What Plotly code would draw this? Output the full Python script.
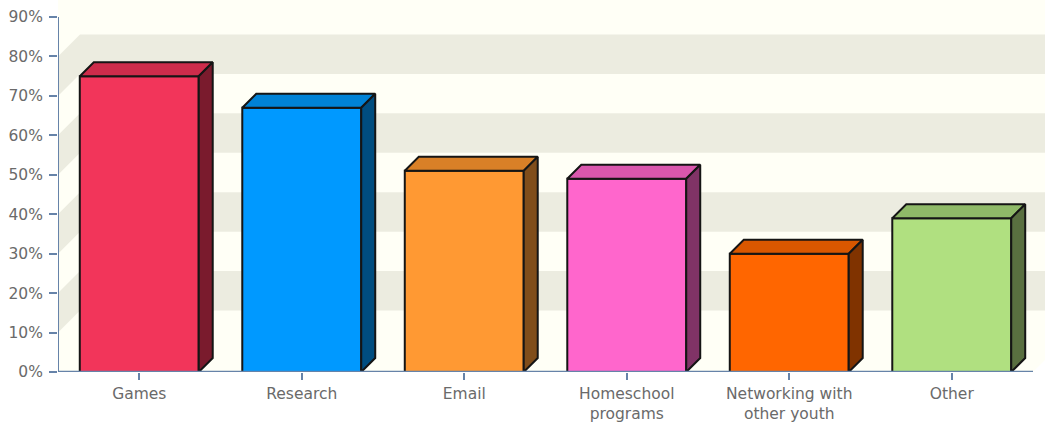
import plotly.graph_objects as go

# Survey data: share of respondents using the computer for each activity
categories = ["Games", "Research", "Email", "Homeschool<br>programs",
              "Networking with<br>other youth", "Other"]
values = [75, 67, 51, 49, 30, 39]

# Face colours per bar: front, top, side
front_colors = ["#F2355A", "#0099FF", "#FF9933", "#FF66CC", "#FF6600", "#B0E080"]
top_colors = ["#CE2C4B", "#0082D6", "#D98027", "#D957AD", "#D95700", "#8FBA68"]
side_colors = ["#7A1B2D", "#004D80", "#804D1A", "#803366", "#803300", "#596F40"]

y_ticks = list(range(0, 100, 10))
y_tick_labels = [f"{t}%" for t in y_ticks]
band_ranges = [(10, 20), (30, 40), (50, 60), (70, 80)]

# Geometry (axis units)
W, H = 1045, 425
ML, MB, MT, MR = 58, 53, 0, 0
px_per_cat = 162.5
px_per_pct = 355 / 90
x0 = -0.5
x_max = x0 + (W - ML - MR) / px_per_cat
y_max = (H - MB - MT) / px_per_pct

bar_w = 0.732
bar_dx = 14 / px_per_cat
bar_dy = 14 / px_per_pct
wall_dx = 22 / px_per_cat
wall_dy = 22 / px_per_pct

axis_col = "#6683A9"
cream = "#FFFFF6"
band = "#ECECE0"
text_col = "#6A6A6A"
edge = "#151515"

xs = list(range(len(categories)))

fig = go.Figure()

# Front faces
fig.add_trace(go.Bar(
    x=xs, y=values, width=bar_w,
    marker=dict(color=front_colors, line=dict(color=edge, width=2)),
    hoverinfo="skip",
))

# Top and side faces for the 3D look
hw = bar_w / 2
for i, v in enumerate(values):
    c = xs[i]
    fig.add_trace(go.Scatter(
        x=[c - hw, c - hw + bar_dx, c + hw + bar_dx, c + hw, c - hw],
        y=[v, v + bar_dy, v + bar_dy, v, v],
        mode="lines", fill="toself", fillcolor=top_colors[i],
        line=dict(color=edge, width=2), hoverinfo="skip",
    ))
    fig.add_trace(go.Scatter(
        x=[c + hw, c + hw + bar_dx, c + hw + bar_dx, c + hw, c + hw],
        y=[0, bar_dy, v + bar_dy, v, 0],
        mode="lines", fill="toself", fillcolor=side_colors[i],
        line=dict(color=edge, width=2), hoverinfo="skip",
    ))

shapes = []
# Back-wall bands
for a, b in band_ranges:
    shapes.append(dict(type="rect", xref="x", yref="y", layer="below",
                       x0=x0 + wall_dx, x1=x_max, y0=a + wall_dy, y1=b + wall_dy,
                       fillcolor=band, line=dict(width=0)))
    # Matching bands on the left side wall
    shapes.append(dict(
        type="path", xref="x", yref="y", layer="below",
        path=(f"M{x0},{a} L{x0 + wall_dx},{a + wall_dy} "
              f"L{x0 + wall_dx},{b + wall_dy} L{x0},{b} Z"),
        fillcolor=band, line=dict(width=0)))
# White corner past the floor's right edge
xe = len(categories) - 0.5
shapes.append(dict(type="path", xref="x", yref="y", layer="below",
                   path=f"M{xe},0 L{xe + wall_dx},{wall_dy} L{x_max + 0.2},{wall_dy} L{x_max + 0.2},0 Z",
                   fillcolor="white", line=dict(width=0)))
# Axis lines
shapes.append(dict(type="line", xref="x", yref="y", layer="above",
                   x0=x0, x1=x0, y0=0, y1=90, line=dict(color=axis_col, width=2)))
shapes.append(dict(type="line", xref="x", yref="y", layer="above",
                   x0=x0, x1=xe, y0=0, y1=0, line=dict(color=axis_col, width=2.5)))

fig.update_layout(
    width=W, height=H,
    margin=dict(l=ML, r=MR, t=MT, b=MB, pad=0),
    paper_bgcolor="white", plot_bgcolor=cream,
    showlegend=False, shapes=shapes,
    font=dict(family="DejaVu Sans", size=15.5, color=text_col),
    xaxis=dict(range=[x0, x_max], tickvals=xs, ticktext=categories,
               ticks="outside", ticklen=7, tickwidth=2, tickcolor=axis_col,
               showgrid=False, zeroline=False, showline=False, fixedrange=True),
    yaxis=dict(range=[0, y_max], tickvals=y_ticks, ticktext=y_tick_labels,
               ticks="outside", ticklen=8, tickwidth=2, tickcolor=axis_col,
               ticklabelstandoff=3,
               showgrid=False, zeroline=False, showline=False, fixedrange=True),
)

fig.write_html("out.html")
